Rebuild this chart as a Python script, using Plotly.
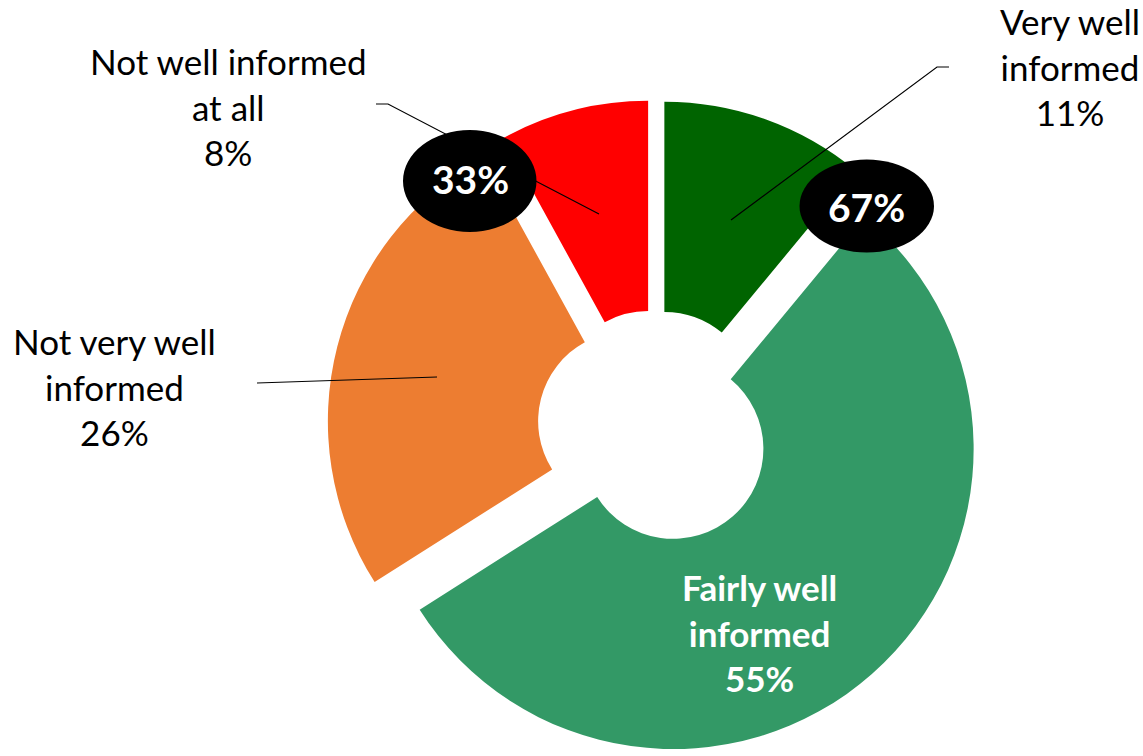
import plotly.graph_objects as go

# Survey responses: how well informed people feel
categories = ["Very well informed", "Fairly well informed",
              "Not very well informed", "Not well informed at all"]
shares = [11, 55, 26, 8]
slice_colors = ["#006400", "#339966", "#ED7D31", "#FF0000"]

# Combined totals: informed (very + fairly) and not informed
group_labels = ["67%", "33%"]

W, H = 1143, 756


def px(x):
    return x / W


def py(y):
    return 1 - y / H


fig = go.Figure()

fig.add_trace(go.Pie(
    labels=categories,
    values=shares,
    sort=False,
    direction="clockwise",
    rotation=0,
    hole=0.3,
    pull=[0.092] * len(shares),
    marker=dict(colors=slice_colors, line=dict(width=0)),
    textinfo="none",
    hoverinfo="label+percent",
    showlegend=False,
    domain=dict(x=[px(655 - 331), px(655 + 331)], y=[0, py(100)]),
))

# Leader lines from slices to their outside labels
leaders = [
    [(731, 220), (937, 67), (949, 67)],
    [(599, 214), (388, 104), (376, 104)],
    [(437, 377), (257, 383)],
]
shapes = []
for pts in leaders:
    path = "M " + " L ".join(f"{px(x):.5f},{py(y):.5f}" for x, y in pts)
    shapes.append(dict(type="path", xref="paper", yref="paper", path=path,
                       line=dict(color="black", width=1.2), layer="above"))

# Black ovals holding the group totals
ovals = [(799.5, 159.5, 934, 252.5), (403, 130, 536.5, 232)]
for (x0, y0, x1, y1) in ovals:
    shapes.append(dict(type="circle", xref="paper", yref="paper",
                       x0=px(x0), x1=px(x1), y0=py(y1), y1=py(y0),
                       fillcolor="black", line=dict(width=0), layer="above"))

font_regular = dict(family="Lato, 'Open Sans', sans-serif", size=35, color="black")
font_white_bold = dict(family="Lato, 'Open Sans', sans-serif", size=35, color="white")
font_oval = dict(family="Lato, 'Open Sans', sans-serif", size=39, color="white")

annotations = [
    dict(x=px(1070), y=py(66), text=f"Very well<br>informed<br>{shares[0]}%",
         font=font_regular),
    dict(x=px(759), y=py(632),
         text=f"<b>Fairly well<br>informed<br>{shares[1]}%</b>",
         font=font_white_bold),
    dict(x=px(114), y=py(386), text=f"Not very well<br>informed<br>{shares[2]}%",
         font=font_regular),
    dict(x=px(228), y=py(106), text=f"Not well informed<br>at all<br>{shares[3]}%",
         font=font_regular),
    dict(x=px(867), y=py(207), text=f"<b>{group_labels[0]}</b>",
         font=font_oval),
    dict(x=px(470), y=py(179), text=f"<b>{group_labels[1]}</b>",
         font=font_oval),
]
for a in annotations:
    a.update(xref="paper", yref="paper", showarrow=False,
             xanchor="center", yanchor="middle", align="center")

fig.update_layout(
    width=W, height=H,
    margin=dict(l=0, r=0, t=0, b=0),
    paper_bgcolor="white",
    plot_bgcolor="white",
    shapes=shapes,
    annotations=annotations,
)

fig.write_html("out.html")
